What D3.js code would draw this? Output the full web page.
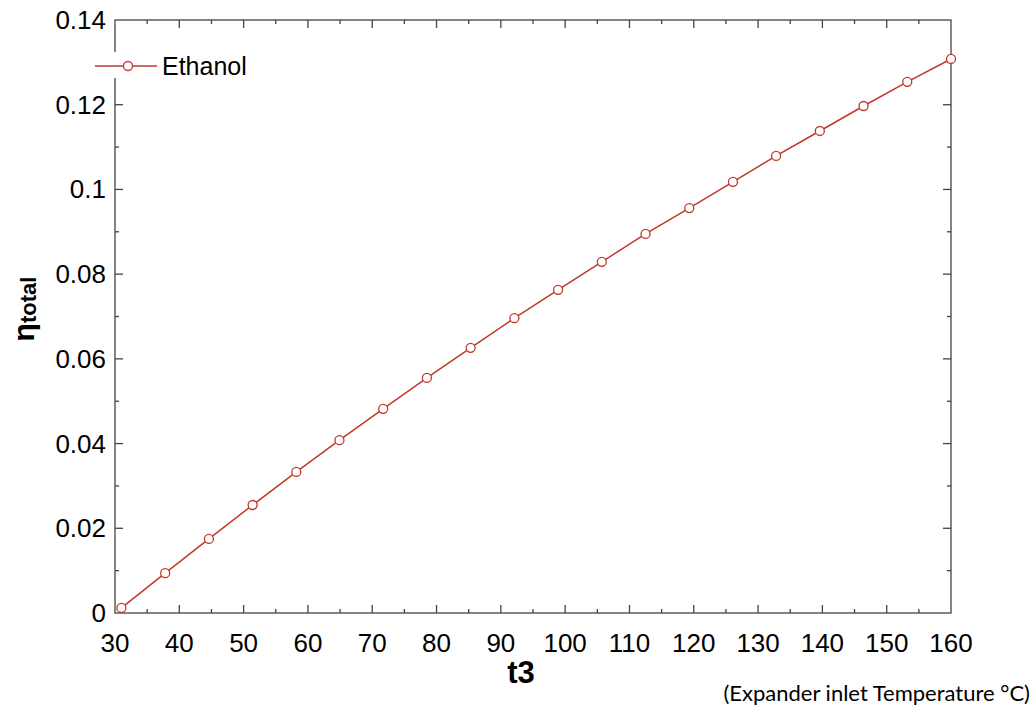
<!DOCTYPE html>
<html><head><meta charset="utf-8">
<script src="https://cdn.jsdelivr.net/npm/d3@7"></script>
<style>body{margin:0;background:#fff}svg{display:block}</style>
</head><body>
<svg id="c" width="1035" height="714"></svg>
<script>
const seriesName = "Ethanol";
const t3 = [31, 37.8, 44.6, 51.4, 58.2, 64.9, 71.7, 78.5, 85.3, 92.1, 98.9, 105.7, 112.5, 119.3, 126.1, 132.8, 139.6, 146.4, 153.2, 160];
const etaTotal = [0.0012, 0.0094, 0.0175, 0.0255, 0.0333, 0.0408, 0.0482, 0.0555, 0.0626, 0.0696, 0.0763, 0.0829, 0.0895, 0.0956, 0.1018, 0.1079, 0.1138, 0.1197, 0.1254, 0.1308];
const xTicks = [30,40,50,60,70,80,90,100,110,120,130,140,150,160];
const yTicks = [0,0.02,0.04,0.06,0.08,0.1,0.12,0.14];
const yTickLabels = ["0","0.02","0.04","0.06","0.08","0.1","0.12","0.14"];

const svg = d3.select("#c");
const L=115, R=951, T=20, B=613;
const x = d3.scaleLinear().domain([30,160]).range([L,R]);
const y = d3.scaleLinear().domain([0,0.14]).range([B,T]);
const axisColor = "#444";
const red = "#c0392b";
const font = "Liberation Sans, Arial, sans-serif";

const xMinor = d3.range(35,160,10);
const yMinor = d3.range(0.01,0.14,0.02);

const g = svg.append("g");
g.append("rect").attr("x",L).attr("y",T).attr("width",R-L).attr("height",B-T)
  .attr("fill","none").attr("stroke",axisColor).attr("stroke-width",1.3);

function tk(x1,y1,x2,y2){g.append("line").attr("x1",x1).attr("y1",y1).attr("x2",x2).attr("y2",y2).attr("stroke",axisColor).attr("stroke-width",1.3);}
xTicks.forEach(v=>{ if(v>30&&v<160){tk(x(v),B,x(v),B-8); tk(x(v),T,x(v),T+8);} });
xMinor.forEach(v=>{ tk(x(v),B,x(v),B-4); tk(x(v),T,x(v),T+4); });
yTicks.forEach(v=>{ if(v>0&&v<0.14){tk(L,y(v),L+8,y(v)); tk(R,y(v),R-8,y(v));} });
yMinor.forEach(v=>{ tk(L,y(v),L+4,y(v)); tk(R,y(v),R-4,y(v)); });

g.selectAll(".xl").data(xTicks).enter().append("text")
  .attr("x",d=>x(d)).attr("y",652).attr("text-anchor","middle")
  .attr("font-family",font).attr("font-size",26).attr("fill","#000").text(d=>d);
g.selectAll(".yl").data(yTicks).enter().append("text")
  .attr("x",106).attr("y",d=>y(d)+9).attr("text-anchor","end")
  .attr("font-family",font).attr("font-size",26).attr("fill","#000").text((d,i)=>yTickLabels[i]);

const pts = t3.map((v,i)=>[v,etaTotal[i]]);
g.append("path").datum(pts).attr("fill","none").attr("stroke",red).attr("stroke-width",1.5)
  .attr("d",d3.line().x(d=>x(d[0])).y(d=>y(d[1])));
g.selectAll(".pt").data(pts).enter().append("circle")
  .attr("cx",d=>x(d[0])).attr("cy",d=>y(d[1])).attr("r",4.5)
  .attr("fill","#fff").attr("stroke",red).attr("stroke-width",1.3);

g.append("rect").attr("x",93).attr("y",52).attr("width",70).attr("height",26).attr("fill","#fff");
g.append("line").attr("x1",95).attr("y1",66).attr("x2",157).attr("y2",66).attr("stroke",red).attr("stroke-width",1.3);
g.append("circle").attr("cx",128).attr("cy",66).attr("r",4.5).attr("fill","#fff").attr("stroke",red).attr("stroke-width",1.3);
g.append("text").attr("x",162).attr("y",75).attr("font-family",font).attr("font-size",25).attr("fill","#000").text(seriesName);

g.append("text").attr("x",521).attr("y",683).attr("text-anchor","middle")
  .attr("font-family",font).attr("font-size",31).attr("font-weight","bold").attr("fill","#000").text("t3");
const yt = g.append("text").attr("transform","translate(34,309) rotate(-90)").attr("text-anchor","middle")
  .attr("font-family",font).attr("font-weight","bold").attr("fill","#000");
yt.append("tspan").attr("font-size",30).text("η");
yt.append("tspan").attr("font-size",22).attr("dy",2).text("total");
g.append("text").attr("x",1030).attr("y",701).attr("text-anchor","end")
  .attr("font-family","Lato, Open Sans, sans-serif").attr("font-size",22).attr("fill","#000").text("(Expander inlet Temperature °C)");
</script>
</body></html>
